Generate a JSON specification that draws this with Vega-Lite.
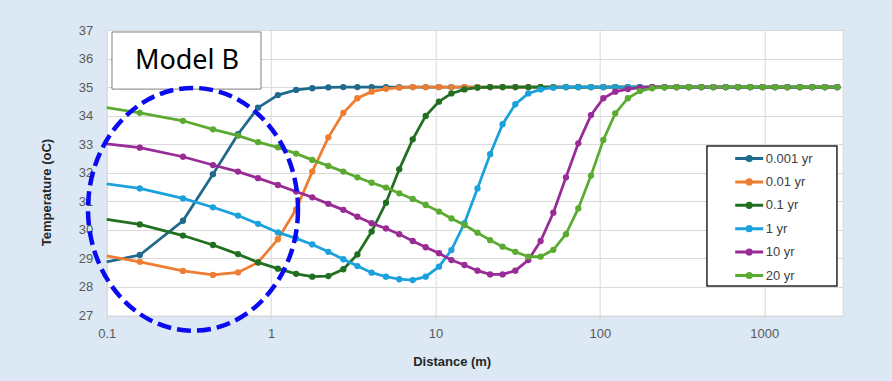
{
  "$schema": "https://vega.github.io/schema/vega-lite/v6.json",
  "width": 736,
  "height": 285.5,
  "autosize": {"type": "none"},
  "padding": {"left": 106.7, "top": 30, "right": 49.3, "bottom": 65.5},
  "background": "#dce9f5",
  "config": {
    "view": {"fill": "white", "stroke": "#d9d9d9", "strokeWidth": 1},
    "axis": {
      "gridColor": "#d9d9d9", "gridWidth": 1, "domain": false,
      "labelFont": "Liberation Sans", "labelFontSize": 13, "labelColor": "#595959",
      "titleFont": "Liberation Sans", "titleFontSize": 13, "titleFontWeight": "bold", "titleColor": "#262626"
    }
  },
  "datasets": {
    "series": [
      {"s":"0.001 yr","x":0.1,"t":28.88},{"s":"0.001 yr","x":0.159,"t":29.12},{"s":"0.001 yr","x":0.291,"t":30.32},{"s":"0.001 yr","x":0.443,"t":31.95},{"s":"0.001 yr","x":0.629,"t":33.35},{"s":"0.001 yr","x":0.833,"t":34.28},{"s":"0.001 yr","x":1.10,"t":34.72},{"s":"0.001 yr","x":1.42,"t":34.90},{"s":"0.001 yr","x":1.78,"t":34.96},{"s":"0.001 yr","x":2.23,"t":34.99},
      {"s":"0.001 yr","x":2.75,"t":35},{"s":"0.001 yr","x":3.35,"t":35},{"s":"0.001 yr","x":4.09,"t":35},{"s":"0.001 yr","x":5.00,"t":35},{"s":"0.001 yr","x":6.02,"t":35},{"s":"0.001 yr","x":7.27,"t":35},{"s":"0.001 yr","x":8.72,"t":35},{"s":"0.001 yr","x":10.5,"t":35},{"s":"0.001 yr","x":12.5,"t":35},{"s":"0.001 yr","x":15.0,"t":35},
      {"s":"0.001 yr","x":18.0,"t":35},{"s":"0.001 yr","x":21.5,"t":35},{"s":"0.001 yr","x":25.6,"t":35},{"s":"0.001 yr","x":30.6,"t":35},{"s":"0.001 yr","x":36.7,"t":35},{"s":"0.001 yr","x":43.6,"t":35},{"s":"0.001 yr","x":52.1,"t":35},{"s":"0.001 yr","x":62.2,"t":35},{"s":"0.001 yr","x":73.9,"t":35},{"s":"0.001 yr","x":88.3,"t":35},
      {"s":"0.001 yr","x":105,"t":35},{"s":"0.001 yr","x":124,"t":35},{"s":"0.001 yr","x":148,"t":35},{"s":"0.001 yr","x":175,"t":35},{"s":"0.001 yr","x":208,"t":35},{"s":"0.001 yr","x":247,"t":35},{"s":"0.001 yr","x":293,"t":35},{"s":"0.001 yr","x":348,"t":35},{"s":"0.001 yr","x":414,"t":35},{"s":"0.001 yr","x":490,"t":35},
      {"s":"0.001 yr","x":583,"t":35},{"s":"0.001 yr","x":692,"t":35},{"s":"0.001 yr","x":822,"t":35},{"s":"0.001 yr","x":978,"t":35},{"s":"0.001 yr","x":1162,"t":35},{"s":"0.001 yr","x":1380,"t":35},{"s":"0.001 yr","x":1649,"t":35},{"s":"0.001 yr","x":1959,"t":35},{"s":"0.001 yr","x":2340,"t":35},{"s":"0.001 yr","x":2780,"t":35},

      {"s":"0.01 yr","x":0.1,"t":29.09},{"s":"0.01 yr","x":0.159,"t":28.88},{"s":"0.01 yr","x":0.291,"t":28.56},{"s":"0.01 yr","x":0.443,"t":28.42},{"s":"0.01 yr","x":0.629,"t":28.51},{"s":"0.01 yr","x":0.833,"t":28.86},{"s":"0.01 yr","x":1.10,"t":29.67},{"s":"0.01 yr","x":1.42,"t":30.72},{"s":"0.01 yr","x":1.78,"t":32.04},{"s":"0.01 yr","x":2.23,"t":33.24},
      {"s":"0.01 yr","x":2.75,"t":34.10},{"s":"0.01 yr","x":3.35,"t":34.61},{"s":"0.01 yr","x":4.09,"t":34.84},{"s":"0.01 yr","x":5.00,"t":34.94},{"s":"0.01 yr","x":6.02,"t":34.98},{"s":"0.01 yr","x":7.27,"t":35},{"s":"0.01 yr","x":8.72,"t":35},{"s":"0.01 yr","x":10.5,"t":35},{"s":"0.01 yr","x":12.5,"t":35},{"s":"0.01 yr","x":15.0,"t":35},
      {"s":"0.01 yr","x":18.0,"t":35},{"s":"0.01 yr","x":21.5,"t":35},{"s":"0.01 yr","x":25.6,"t":35},{"s":"0.01 yr","x":30.6,"t":35},{"s":"0.01 yr","x":36.7,"t":35},{"s":"0.01 yr","x":43.6,"t":35},{"s":"0.01 yr","x":52.1,"t":35},{"s":"0.01 yr","x":62.2,"t":35},{"s":"0.01 yr","x":73.9,"t":35},{"s":"0.01 yr","x":88.3,"t":35},
      {"s":"0.01 yr","x":105,"t":35},{"s":"0.01 yr","x":124,"t":35},{"s":"0.01 yr","x":148,"t":35},{"s":"0.01 yr","x":175,"t":35},{"s":"0.01 yr","x":208,"t":35},{"s":"0.01 yr","x":247,"t":35},{"s":"0.01 yr","x":293,"t":35},{"s":"0.01 yr","x":348,"t":35},{"s":"0.01 yr","x":414,"t":35},{"s":"0.01 yr","x":490,"t":35},
      {"s":"0.01 yr","x":583,"t":35},{"s":"0.01 yr","x":692,"t":35},{"s":"0.01 yr","x":822,"t":35},{"s":"0.01 yr","x":978,"t":35},{"s":"0.01 yr","x":1162,"t":35},{"s":"0.01 yr","x":1380,"t":35},{"s":"0.01 yr","x":1649,"t":35},{"s":"0.01 yr","x":1959,"t":35},{"s":"0.01 yr","x":2340,"t":35},{"s":"0.01 yr","x":2780,"t":35},

      {"s":"0.1 yr","x":0.1,"t":30.37},{"s":"0.1 yr","x":0.159,"t":30.19},{"s":"0.1 yr","x":0.291,"t":29.80},{"s":"0.1 yr","x":0.443,"t":29.47},{"s":"0.1 yr","x":0.629,"t":29.15},{"s":"0.1 yr","x":0.833,"t":28.86},{"s":"0.1 yr","x":1.10,"t":28.64},{"s":"0.1 yr","x":1.42,"t":28.46},{"s":"0.1 yr","x":1.78,"t":28.36},{"s":"0.1 yr","x":2.23,"t":28.38},
      {"s":"0.1 yr","x":2.75,"t":28.62},{"s":"0.1 yr","x":3.35,"t":29.14},{"s":"0.1 yr","x":4.09,"t":29.94},{"s":"0.1 yr","x":5.00,"t":30.95},{"s":"0.1 yr","x":6.02,"t":32.12},{"s":"0.1 yr","x":7.27,"t":33.17},{"s":"0.1 yr","x":8.72,"t":33.99},{"s":"0.1 yr","x":10.5,"t":34.49},{"s":"0.1 yr","x":12.5,"t":34.78},{"s":"0.1 yr","x":15.0,"t":34.92},
      {"s":"0.1 yr","x":18.0,"t":34.98},{"s":"0.1 yr","x":21.5,"t":35},{"s":"0.1 yr","x":25.6,"t":35},{"s":"0.1 yr","x":30.6,"t":35},{"s":"0.1 yr","x":36.7,"t":35},{"s":"0.1 yr","x":43.6,"t":35},{"s":"0.1 yr","x":52.1,"t":35},{"s":"0.1 yr","x":62.2,"t":35},{"s":"0.1 yr","x":73.9,"t":35},{"s":"0.1 yr","x":88.3,"t":35},
      {"s":"0.1 yr","x":105,"t":35},{"s":"0.1 yr","x":124,"t":35},{"s":"0.1 yr","x":148,"t":35},{"s":"0.1 yr","x":175,"t":35},{"s":"0.1 yr","x":208,"t":35},{"s":"0.1 yr","x":247,"t":35},{"s":"0.1 yr","x":293,"t":35},{"s":"0.1 yr","x":348,"t":35},{"s":"0.1 yr","x":414,"t":35},{"s":"0.1 yr","x":490,"t":35},
      {"s":"0.1 yr","x":583,"t":35},{"s":"0.1 yr","x":692,"t":35},{"s":"0.1 yr","x":822,"t":35},{"s":"0.1 yr","x":978,"t":35},{"s":"0.1 yr","x":1162,"t":35},{"s":"0.1 yr","x":1380,"t":35},{"s":"0.1 yr","x":1649,"t":35},{"s":"0.1 yr","x":1959,"t":35},{"s":"0.1 yr","x":2340,"t":35},{"s":"0.1 yr","x":2780,"t":35},

      {"s":"1 yr","x":0.1,"t":31.61},{"s":"1 yr","x":0.159,"t":31.45},{"s":"1 yr","x":0.291,"t":31.10},{"s":"1 yr","x":0.443,"t":30.79},{"s":"1 yr","x":0.629,"t":30.50},{"s":"1 yr","x":0.833,"t":30.21},{"s":"1 yr","x":1.10,"t":29.91},{"s":"1 yr","x":1.42,"t":29.70},{"s":"1 yr","x":1.78,"t":29.49},{"s":"1 yr","x":2.23,"t":29.23},
      {"s":"1 yr","x":2.75,"t":28.97},{"s":"1 yr","x":3.35,"t":28.73},{"s":"1 yr","x":4.09,"t":28.50},{"s":"1 yr","x":5.00,"t":28.36},{"s":"1 yr","x":6.02,"t":28.27},{"s":"1 yr","x":7.27,"t":28.24},{"s":"1 yr","x":8.72,"t":28.36},{"s":"1 yr","x":10.5,"t":28.71},{"s":"1 yr","x":12.5,"t":29.29},{"s":"1 yr","x":15.0,"t":30.23},
      {"s":"1 yr","x":18.0,"t":31.45},{"s":"1 yr","x":21.5,"t":32.65},{"s":"1 yr","x":25.6,"t":33.70},{"s":"1 yr","x":30.6,"t":34.40},{"s":"1 yr","x":36.7,"t":34.78},{"s":"1 yr","x":43.6,"t":34.92},{"s":"1 yr","x":52.1,"t":34.98},{"s":"1 yr","x":62.2,"t":35},{"s":"1 yr","x":73.9,"t":35},{"s":"1 yr","x":88.3,"t":35},
      {"s":"1 yr","x":105,"t":35},{"s":"1 yr","x":124,"t":35},{"s":"1 yr","x":148,"t":35},{"s":"1 yr","x":175,"t":35},{"s":"1 yr","x":208,"t":35},{"s":"1 yr","x":247,"t":35},{"s":"1 yr","x":293,"t":35},{"s":"1 yr","x":348,"t":35},{"s":"1 yr","x":414,"t":35},{"s":"1 yr","x":490,"t":35},
      {"s":"1 yr","x":583,"t":35},{"s":"1 yr","x":692,"t":35},{"s":"1 yr","x":822,"t":35},{"s":"1 yr","x":978,"t":35},{"s":"1 yr","x":1162,"t":35},{"s":"1 yr","x":1380,"t":35},{"s":"1 yr","x":1649,"t":35},{"s":"1 yr","x":1959,"t":35},{"s":"1 yr","x":2340,"t":35},{"s":"1 yr","x":2780,"t":35},

      {"s":"10 yr","x":0.1,"t":33.01},{"s":"10 yr","x":0.159,"t":32.88},{"s":"10 yr","x":0.291,"t":32.56},{"s":"10 yr","x":0.443,"t":32.27},{"s":"10 yr","x":0.629,"t":32.04},{"s":"10 yr","x":0.833,"t":31.81},{"s":"10 yr","x":1.10,"t":31.57},{"s":"10 yr","x":1.42,"t":31.34},{"s":"10 yr","x":1.78,"t":31.14},{"s":"10 yr","x":2.23,"t":30.91},
      {"s":"10 yr","x":2.75,"t":30.70},{"s":"10 yr","x":3.35,"t":30.46},{"s":"10 yr","x":4.09,"t":30.23},{"s":"10 yr","x":5.00,"t":30.05},{"s":"10 yr","x":6.02,"t":29.85},{"s":"10 yr","x":7.27,"t":29.61},{"s":"10 yr","x":8.72,"t":29.39},{"s":"10 yr","x":10.5,"t":29.18},{"s":"10 yr","x":12.5,"t":28.94},{"s":"10 yr","x":15.0,"t":28.77},
      {"s":"10 yr","x":18.0,"t":28.57},{"s":"10 yr","x":21.5,"t":28.44},{"s":"10 yr","x":25.6,"t":28.44},{"s":"10 yr","x":30.6,"t":28.57},{"s":"10 yr","x":36.7,"t":28.94},{"s":"10 yr","x":43.6,"t":29.61},{"s":"10 yr","x":52.1,"t":30.60},{"s":"10 yr","x":62.2,"t":31.84},{"s":"10 yr","x":73.9,"t":33.03},{"s":"10 yr","x":88.3,"t":34.02},
      {"s":"10 yr","x":105,"t":34.61},{"s":"10 yr","x":124,"t":34.84},{"s":"10 yr","x":148,"t":34.93},{"s":"10 yr","x":175,"t":34.98},{"s":"10 yr","x":208,"t":35},{"s":"10 yr","x":247,"t":35},{"s":"10 yr","x":293,"t":35},{"s":"10 yr","x":348,"t":35},{"s":"10 yr","x":414,"t":35},{"s":"10 yr","x":490,"t":35},
      {"s":"10 yr","x":583,"t":35},{"s":"10 yr","x":692,"t":35},{"s":"10 yr","x":822,"t":35},{"s":"10 yr","x":978,"t":35},{"s":"10 yr","x":1162,"t":35},{"s":"10 yr","x":1380,"t":35},{"s":"10 yr","x":1649,"t":35},{"s":"10 yr","x":1959,"t":35},{"s":"10 yr","x":2340,"t":35},{"s":"10 yr","x":2780,"t":35},

      {"s":"20 yr","x":0.1,"t":34.28},{"s":"20 yr","x":0.159,"t":34.10},{"s":"20 yr","x":0.291,"t":33.82},{"s":"20 yr","x":0.443,"t":33.52},{"s":"20 yr","x":0.629,"t":33.30},{"s":"20 yr","x":0.833,"t":33.07},{"s":"20 yr","x":1.10,"t":32.89},{"s":"20 yr","x":1.42,"t":32.67},{"s":"20 yr","x":1.78,"t":32.45},{"s":"20 yr","x":2.23,"t":32.24},
      {"s":"20 yr","x":2.75,"t":32.04},{"s":"20 yr","x":3.35,"t":31.84},{"s":"20 yr","x":4.09,"t":31.65},{"s":"20 yr","x":5.00,"t":31.48},{"s":"20 yr","x":6.02,"t":31.28},{"s":"20 yr","x":7.27,"t":31.08},{"s":"20 yr","x":8.72,"t":30.87},{"s":"20 yr","x":10.5,"t":30.64},{"s":"20 yr","x":12.5,"t":30.40},{"s":"20 yr","x":15.0,"t":30.17},
      {"s":"20 yr","x":18.0,"t":29.90},{"s":"20 yr","x":21.5,"t":29.64},{"s":"20 yr","x":25.6,"t":29.41},{"s":"20 yr","x":30.6,"t":29.23},{"s":"20 yr","x":36.7,"t":29.06},{"s":"20 yr","x":43.6,"t":29.06},{"s":"20 yr","x":52.1,"t":29.30},{"s":"20 yr","x":62.2,"t":29.85},{"s":"20 yr","x":73.9,"t":30.75},{"s":"20 yr","x":88.3,"t":31.90},
      {"s":"20 yr","x":105,"t":33.15},{"s":"20 yr","x":124,"t":34.08},{"s":"20 yr","x":148,"t":34.61},{"s":"20 yr","x":175,"t":34.86},{"s":"20 yr","x":208,"t":34.96},{"s":"20 yr","x":247,"t":34.99},{"s":"20 yr","x":293,"t":35},{"s":"20 yr","x":348,"t":35},{"s":"20 yr","x":414,"t":35},{"s":"20 yr","x":490,"t":35},
      {"s":"20 yr","x":583,"t":35},{"s":"20 yr","x":692,"t":35},{"s":"20 yr","x":822,"t":35},{"s":"20 yr","x":978,"t":35},{"s":"20 yr","x":1162,"t":35},{"s":"20 yr","x":1380,"t":35},{"s":"20 yr","x":1649,"t":35},{"s":"20 yr","x":1959,"t":35},{"s":"20 yr","x":2340,"t":35},{"s":"20 yr","x":2780,"t":35}
    ],
    "box": [{"x": 0.1077, "x2": 0.868, "t": 36.93, "t2": 34.93, "kind": "label"}],
    "legendbox": [{"x": 448, "x2": 2767, "t": 32.94, "t2": 28.03, "kind": "legend"}],
    "label": [{"x": 0.308, "t": 35.91, "text": "Model  B"}],
    "ellipse": [{"x": 0.335, "t": 30.72}]
  },
  "encoding": {
    "x": {
      "field": "x", "type": "quantitative",
      "scale": {"type": "log", "domain": [0.1, 3000]},
      "title": "Distance (m)",
      "axis": {
        "values": [0.1, 1, 10, 100, 1000], "format": "~g", "labelFlush": false,
        "ticks": true, "tickSize": 4, "tickColor": "#d9d9d9", "labelPadding": 8,
        "titleX": 345, "titleY": 46, "titleBaseline": "middle"
      }
    },
    "y": {
      "field": "t", "type": "quantitative",
      "scale": {"domain": [27, 37], "nice": false, "zero": false},
      "title": "Temperature (oC)",
      "axis": {
        "values": [27, 28, 29, 30, 31, 32, 33, 34, 35, 36, 37], "ticks": false, "labelPadding": 14,
        "titleX": -60, "titleY": 162, "titleBaseline": "middle", "titleAlign": "center"
      }
    }
  },
  "layer": [
    {
      "data": {"name": "series"},
      "encoding": {
        "color": {
          "field": "s", "type": "nominal",
          "scale": {
            "domain": ["0.001 yr", "0.01 yr", "0.1 yr", "1 yr", "10 yr", "20 yr"],
            "range": ["#1f6a8c", "#ef7d31", "#217022", "#1ba1dc", "#992b96", "#5bab32"]
          },
          "legend": {
            "orient": "none", "legendX": 600, "legendY": 116, "title": null,
            "padding": 4,
            "symbolType": "M-2,0H2M0.3,0C0.3,0.166 0.166,0.3 0,0.3C-0.166,0.3 -0.3,0.166 -0.3,0C-0.3,-0.166 -0.166,-0.3 0,-0.3C0.166,-0.3 0.3,-0.166 0.3,0Z",
            "symbolSize": 196, "symbolStrokeWidth": 3, "symbolOffset": 30, "labelOffset": 8,
            "rowPadding": 6.4, "labelFont": "Liberation Sans", "labelFontSize": 13, "labelColor": "#404040",
            "encode": {
              "symbols": {"update": {"fill": {"scale": "color", "field": "value"}, "stroke": {"scale": "color", "field": "value"}, "opacity": {"value": 1}}}
            }
          }
        }
      },
      "layer": [
        {"mark": {"type": "line", "strokeWidth": 2.75}},
        {"transform": [{"filter": "datum.x > 0.1"}], "mark": {"type": "point", "filled": true, "size": 40, "opacity": 1}}
      ]
    },
    {
      "data": {"name": "legendbox"},
      "mark": {"type": "rect", "fill": "white", "stroke": "#262626", "strokeWidth": 1.5},
      "encoding": {"x2": {"field": "x2"}, "y2": {"field": "t2"}}
    },
    {
      "data": {"name": "box"},
      "mark": {"type": "rect", "fill": "white", "stroke": "#7f7f7f", "strokeWidth": 1},
      "encoding": {"x2": {"field": "x2"}, "y2": {"field": "t2"}}
    },
    {
      "data": {"name": "label"},
      "mark": {"type": "text", "font": "Noto Sans", "fontSize": 27, "color": "black", "align": "center", "baseline": "middle"},
      "encoding": {"text": {"field": "text"}}
    },
    {
      "data": {"name": "ellipse"},
      "mark": {
        "type": "point", "filled": false, "opacity": 1, "size": 44100,
        "shape": "M1,0C1,0.638 0.552,1.156 0,1.156C-0.552,1.156 -1,0.638 -1,0C-1,-0.638 -0.552,-1.156 0,-1.156C0.552,-1.156 1,-0.638 1,0Z",
        "stroke": "#0a0af0", "strokeWidth": 4.5, "strokeDash": [14, 6]
      }
    }
  ]
}
